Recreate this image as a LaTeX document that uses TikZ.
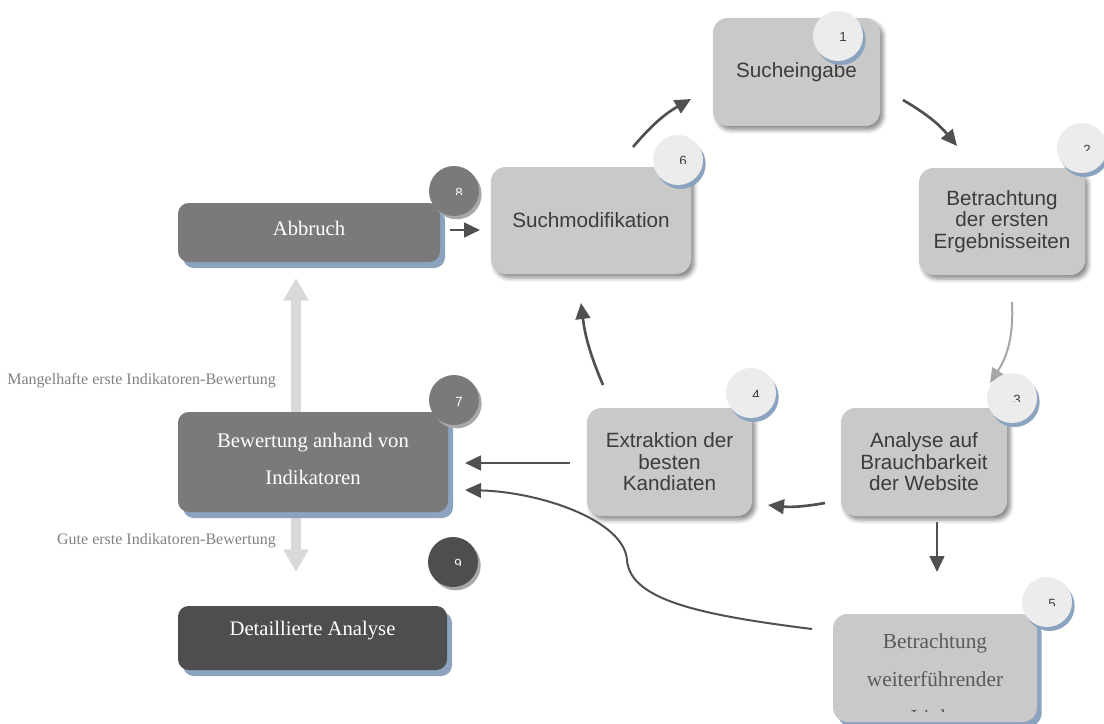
\documentclass[tikz,border=0pt]{standalone}
\usepackage{fontspec}
\setmainfont{Liberation Serif}
\setsansfont{Liberation Sans}
\usetikzlibrary{arrows.meta,shadows,shadows.blur,calc}

\definecolor{boxlight}{HTML}{C9C9C9}
\definecolor{circlight}{HTML}{ECECEC}
\definecolor{boxdark}{HTML}{7A7A7A}
\definecolor{boxdarker}{HTML}{4E4E4E}
\definecolor{shadowblue}{HTML}{8BA3BE}
\definecolor{circshadow}{HTML}{A8A8A8}
\definecolor{arrowdark}{HTML}{505050}
\definecolor{arrowlight}{HTML}{A6A6A6}
\definecolor{barlight}{HTML}{D9D9D9}
\definecolor{textdark}{HTML}{3C3C3C}
\definecolor{textmid}{HTML}{5A5A5A}
\definecolor{labelgray}{HTML}{808080}

% digit in a badge, only its upper part is shown
\newcommand{\digitcut}[4]{%
  \begin{scope}
    \clip ($(#1)+(-14,-16)$) rectangle ($(#1)+(22,3)$);
    \node[digit, text=#4] (#2) at ($(#1)+(5,6)$) {#3};
  \end{scope}}

\begin{document}
\begin{tikzpicture}[x=0.75pt,y=-0.75pt,
  boxsize/.style 2 args={minimum width=#1*0.75pt, minimum height=#2*0.75pt},
  lbox/.style={rectangle, rounded corners=11pt, fill=boxlight, text=textdark,
    inner sep=0pt, align=center,
    font=\sffamily\fontsize{15.5}{16.1}\selectfont,
    blur shadow={shadow xshift=2.5pt, shadow yshift=-3pt,
      shadow blur radius=3pt, shadow opacity=45}},
  dbox/.style={rectangle, rounded corners=8pt, fill=boxdark, inner sep=0pt,
    drop shadow={shadow xshift=3.75pt, shadow yshift=-4.5pt,
      fill=shadowblue, opacity=1}},
  bluebox/.style={rectangle, rounded corners=11pt, fill=boxlight, inner sep=0pt,
    drop shadow={shadow xshift=3.5pt, shadow yshift=-4pt,
      fill=shadowblue, opacity=1}},
  dtext/.style={text=white, align=center, inner sep=0pt,
    font=\fontsize{15.5}{27.75}\selectfont},
  lcirc/.style={circle, minimum size=37.5pt, inner sep=0pt, fill=circlight,
    drop shadow={shadow xshift=2pt, shadow yshift=-3pt,
      fill=shadowblue, opacity=1}},
  dcirc/.style={circle, minimum size=37.5pt, inner sep=0pt, fill=boxdark,
    drop shadow={shadow xshift=2pt, shadow yshift=-2.5pt,
      fill=circshadow, opacity=1}},
  digit/.style={anchor=base, inner sep=0pt,
    font=\sffamily\fontsize{10}{11}\selectfont},
  arr/.style={draw=arrowdark, line width=2pt,
    -{Triangle[length=12pt,width=11pt]}},
  arrthin/.style={draw=arrowdark, line width=1.5pt,
    -{Triangle[length=12pt,width=11pt]}},
  arrlight/.style={draw=arrowlight, line width=1.5pt,
    -{Triangle[length=11pt,width=10pt]}},
  bar/.style={draw=barlight, line width=7.5pt,
    -{Triangle[length=17pt,width=18pt]}},
  note/.style={anchor=east, text=labelgray, inner sep=0pt,
    font=\fontsize{12}{14}\selectfont}
]
\useasboundingbox (0,0) rectangle (1104,724);

% ---------- boxes ----------
\node[lbox, boxsize={167}{108}] (b1) at (796.5,72) {Sucheingabe};
\node[lbox, boxsize={166}{107}] (b2) at (1002,221.5)
  {Betrachtung\\der ersten\\Ergebnisseiten};
\node[lbox, boxsize={166}{108}] (b3) at (924,462)
  {Analyse auf\\Brauchbarkeit\\der Website};
\node[lbox, boxsize={165}{108}] (b4) at (669.5,462)
  {Extraktion der\\besten\\Kandiaten};
\node[lbox, boxsize={200}{107}] (b6) at (591,220.5) {Suchmodifikation};
\node[bluebox, boxsize={204}{108}] (b5) at (935,668) {};

% rating path: thick grey arrows behind the rating box
\coordinate (barmid) at (296,462);
\coordinate (barup) at (296,278);
\coordinate (bardown) at (296,572);
\draw[bar] (barmid) -- (barup);
\draw[bar] (barmid) -- (bardown);

\node[dbox, boxsize={270}{100}] (b7) at (313,462) {};
\node[dbox, boxsize={262}{59}] (b8) at (309,232.5) {};
\node[dbox, fill=boxdarker, boxsize={269}{64}] (b9) at (312.5,638) {};

\node[dtext] (t7) at (313,459) {Bewertung anhand von\\Indikatoren};
\node[dtext] (t8) at (309,228) {Abbruch};
\node[dtext] (t9) at (312.5,631) {Detaillierte Analyse};

\begin{scope}
  \clip (b5.north west) rectangle ($(b5.south east)+(0,-11)$);
  \node[text=textmid, align=center, inner sep=0pt,
    font=\fontsize{16}{28.5}\selectfont] (t5) at (935,679)
    {Betrachtung\\weiterführender\\Links};
\end{scope}

% ---------- connectors ----------
\coordinate (p6a) at (633,147);  \coordinate (p1a) at (691,99);
\coordinate (p1b) at (903,100);  \coordinate (p2b) at (957,146);
\coordinate (p2c) at (1012,302); \coordinate (p3c) at (990,383);
\coordinate (p3d) at (937,522);  \coordinate (p5d) at (937,572);
\coordinate (p3e) at (825,503);  \coordinate (p4e) at (768,505);
\coordinate (p4f) at (603,385);  \coordinate (p6f) at (581,303);
\coordinate (p4g) at (570,463);  \coordinate (p7g) at (465,463);
\coordinate (p5h) at (812,629);  \coordinate (p5m) at (627,560);
\coordinate (p7h) at (465,490);
\coordinate (p8i) at (450,230);  \coordinate (p6i) at (480,230);

\draw[arr] (p6a) to[bend left=10] (p1a);
\draw[arr] (p1b) to[bend left=10] (p2b);
\draw[arrlight] (p2c) to[bend left=18] (p3c);
\draw[arr] (p3d) -- (p5d);
\draw[arr] (p3e) to[bend left=8] (p4e);
\draw[arr] (p4f) to[bend left=8] (p6f);
\draw[arr] (p4g) -- (p7g);
\draw[arrthin] (p5h) .. controls (700,615) and (630,600) .. (p5m)
  .. controls (624,520) and (540,492) .. (p7h);
\draw[arr] (p8i) -- (p6i);

% ---------- numbered badges ----------
\node[lcirc] (c1) at (838,36) {};
\node[lcirc] (c2) at (1082,148) {};
\node[lcirc] (c3) at (1012,398) {};
\node[lcirc] (c4) at (751,393) {};
\node[lcirc] (c5) at (1047,602) {};
\node[lcirc] (c6) at (678,160) {};
\node[dcirc] (c7) at (454,400) {};
\node[dcirc] (c8) at (454,191) {};
\node[dcirc, fill=boxdarker] (c9) at (453,562) {};

\node[digit, text=textdark] (d1) at ($(c1)+(5,6)$) {1};
\digitcut{c2}{d2}{2}{textdark}
\digitcut{c3}{d3}{3}{textdark}
\digitcut{c4}{d4}{4}{textdark}
\digitcut{c5}{d5}{5}{textdark}
\digitcut{c6}{d6}{6}{textdark}
\node[digit, text=white] (d7) at ($(c7)+(5,6)$) {7};
\digitcut{c8}{d8}{8}{white}
\digitcut{c9}{d9}{9}{white}

% ---------- labels of the rating outcomes ----------
\node[note] (n1) at (276,381) {Mangelhafte erste Indikatoren-Bewertung};
\node[note] (n2) at (276,541) {Gute erste Indikatoren-Bewertung};
\end{tikzpicture}
\end{document}
